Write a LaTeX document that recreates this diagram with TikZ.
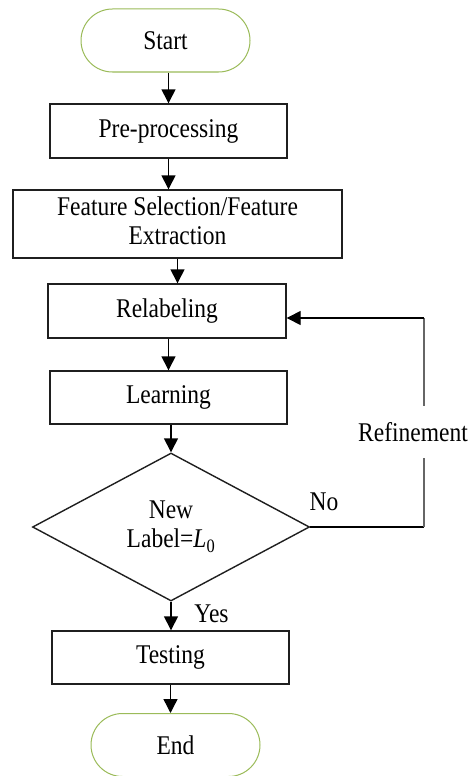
\documentclass[tikz,border=0pt]{standalone}
\usepackage{fontspec}
\setmainfont{Liberation Serif}
\usetikzlibrary{shapes.geometric,shapes.misc,arrows.meta}
\definecolor{termgreen}{HTML}{9BBB59}
% slightly tall lettering
\newcommand{\tallt}[1]{\scalebox{1}[1.15]{#1}}

\begin{document}
\begin{tikzpicture}[x=1pt,y=-1pt,
  every node/.style={font=\fontsize{23.5}{26}\selectfont},
  procbox/.style={draw=black!88, line width=1.4pt, rectangle, inner sep=0pt},
  term/.style={draw=termgreen, line width=1pt, rounded rectangle,
    minimum width=169pt, minimum height=63pt, inner sep=0pt},
  decide/.style={draw=black!88, line width=1.4pt, diamond, aspect=1.87,
    minimum width=277pt, minimum height=148pt, inner sep=0pt},
  arr/.style={line width=1.4pt, -{Triangle[width=14pt,length=14pt]}},
  fb/.style={line width=1.4pt, draw=black!60},
]
\fill[white] (0,0) rectangle (470,776);
\useasboundingbox (0,0) rectangle (470,776);

% process chain
\node[term] (start) at (165.5,40.5) {\tallt{Start}};
\node[procbox, minimum width=237pt, minimum height=54pt] (pre) at (168.5,131) {\tallt{Pre-processing}};
\node[procbox, minimum width=329pt, minimum height=68pt] (fs) at (177.5,224)
  {\tallt{\begin{tabular}{@{}c@{}}Feature Selection/Feature\\Extraction\end{tabular}}};
\node[procbox, minimum width=238pt, minimum height=54pt] (rel) at (167,311) {\tallt{Relabeling}};
\node[procbox, minimum width=237pt, minimum height=53pt] (learn) at (168.5,397.5) {\tallt{Learning}};
\node[decide] (dec) at (171,527)
  {\tallt{\begin{tabular}{@{}c@{}}New\\Label={\itshape L}\textsubscript{0}\end{tabular}}};
\node[procbox, minimum width=237pt, minimum height=53pt] (test) at (170.5,657.5) {\tallt{Testing}};
\node[term] (end) at (175.5,745) {\tallt{End}};

% branch labels
\node (no) at (324,502) {\tallt{No}};
\node (yes) at (211.5,614) {\tallt{Yes}};
\node[minimum height=52pt, inner sep=0pt] (refine) at (413,432) {\tallt{Refinement}};

% main flow
\draw[arr] (start.south -| pre.north) -- (pre.north);
\draw[arr] (pre.south) -- (pre.south |- fs.north);
\draw[arr] (fs.south) -- (fs.south |- rel.north);
\draw[arr] (rel.south -| learn.north) -- (learn.north);
\draw[arr] (learn.south -| dec.north) -- (dec.north);
\draw[arr] (dec.south) -- (dec.south |- test.north);
\draw[arr] (test.south) -- (test.south |- end.north);

% refinement loop
\coordinate (corner) at (424,527);
\coordinate (loopTop) at (424,318);
\draw[line width=1.4pt] (dec.east) -- (corner);
\draw[fb] (corner) -- (corner |- refine.south);
\draw[fb] (corner |- refine.north) -- (loopTop);
\draw[arr] (loopTop) -- (loopTop -| rel.east);
\end{tikzpicture}
\end{document}
